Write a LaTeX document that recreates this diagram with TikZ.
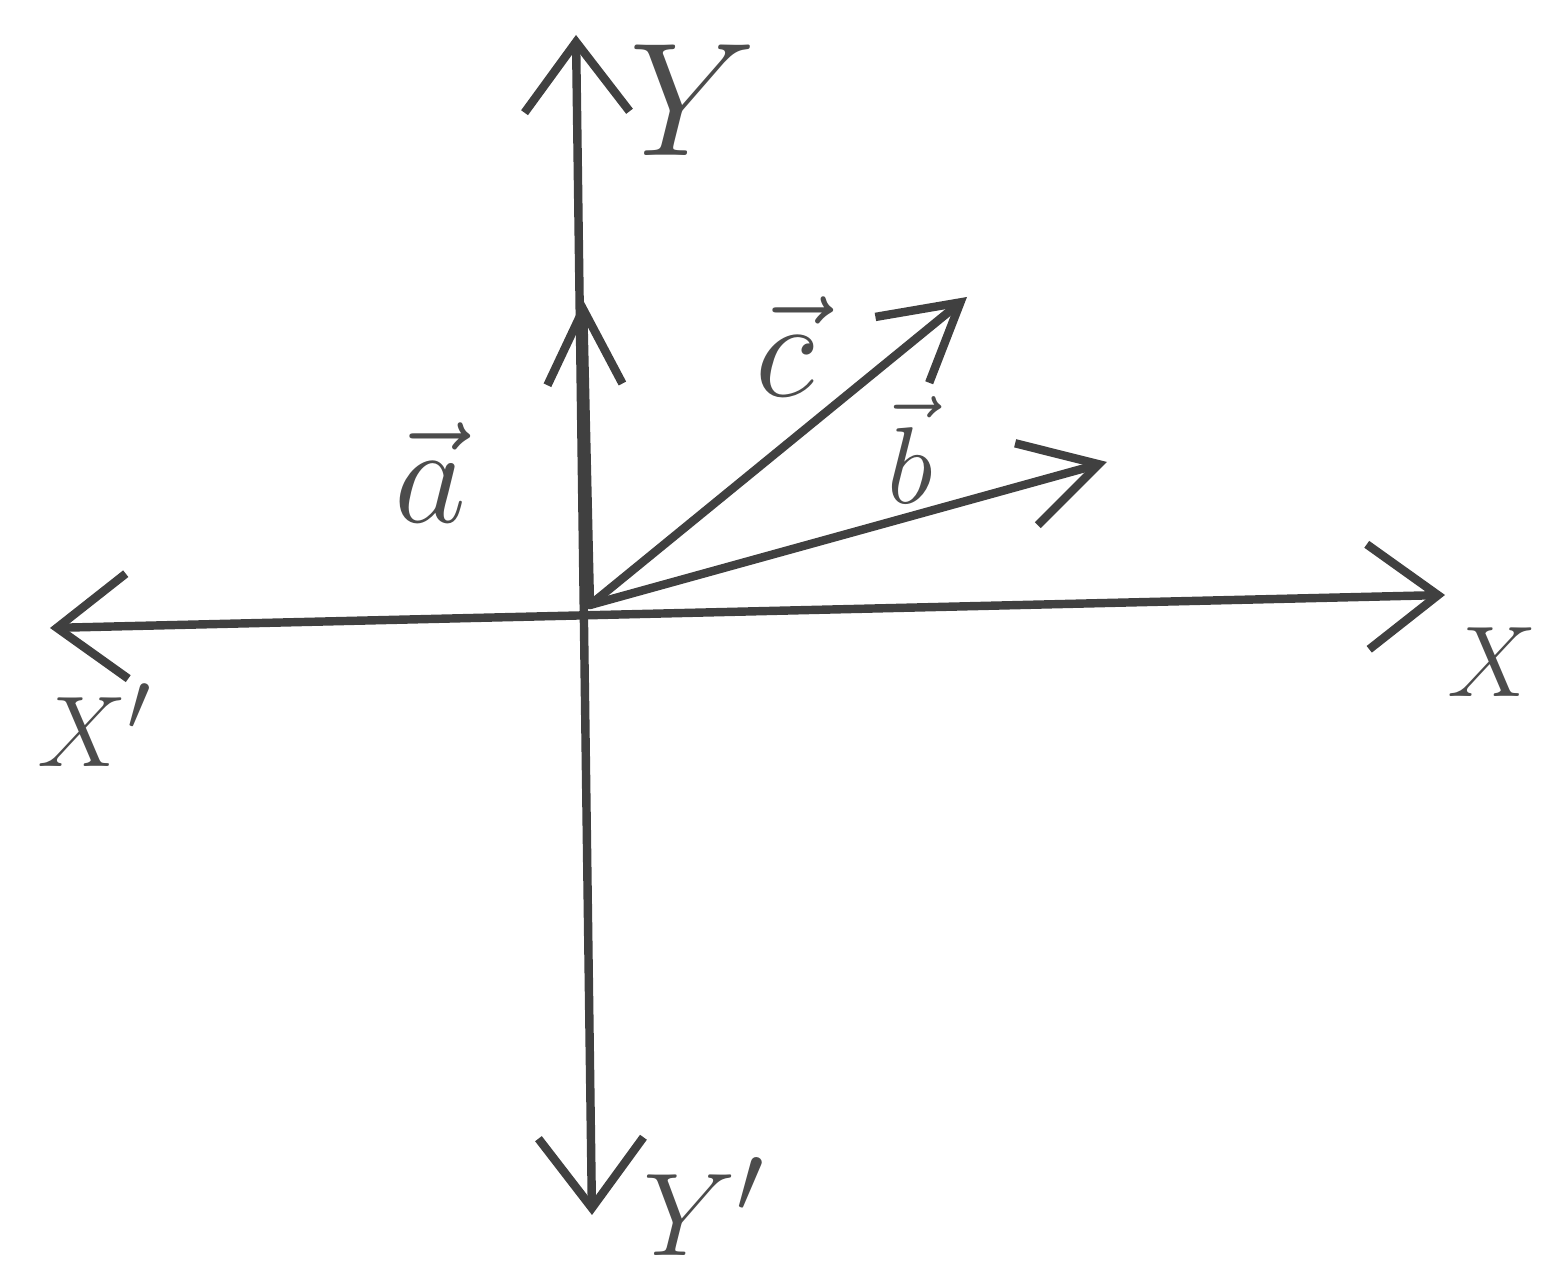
\documentclass[tikz,border=0pt]{standalone}
\usepackage{amsmath}
\usepackage{tikz}
\usetikzlibrary{arrows.meta, positioning}
\tikzset{
    eixo/.style  = {line width=2.4pt, black!75, line cap=round,
                    {Straight Barb[length=7mm, width=10.5mm, line width=2.4pt]}-{Straight Barb[length=7mm, width=10.5mm, line width=2.4pt]}},
    vetor/.style = {line width=2.4pt, black!75, line cap=round,
                    -{Straight Barb[length=7.5mm, width=8.5mm, line width=2.4pt]}},
    vetora/.style = {line width=2.4pt, black!75, line cap=round,
                    -{Straight Barb[length=7.5mm, width=7.5mm, line width=2.4pt]}},
    rot/.style   = {text=black!70, font=\Huge, inner sep=0pt},
}
\begin{document}
\begin{tikzpicture}
    \useasboundingbox (-5.90,-6.69) rectangle (9.54,6.05);
    % pontos
    \coordinate (O)  at (0,0);
    \coordinate (xl) at (-5.40,-0.23);
    \coordinate (xr) at (8.55,0.10);
    \coordinate (yt) at (-0.14,5.70);
    \coordinate (yb) at (0.02,-6.10);
    \coordinate (ta) at (-0.07,3.05);
    \coordinate (tc) at (3.77,3.08);
    \coordinate (tb) at (5.17,1.43);
    % eixos
    \draw[eixo] (xl) -- (xr);
    \draw[eixo] (yb) -- (yt);
    % vetores
    \draw[vetora] (O) -- (ta);
    \draw[vetor] (O) -- (tc);
    \draw[vetor] (O) -- (tb);
    % rotulos
    \node[rot, scale=1.85] (lY) at (1.03,5.05) {$Y$};
    \node[rot, scale=1.15] (lX)  at (9.02,-0.57) {$X$};
    \node[rot, scale=1.15] (lXl) at (-4.95,-1.20) {$X'$};
    \node[rot, scale=1.35] (lYl) at (1.15,-6.02) {$Y'$};
    \node[rot, scale=1.6] (la) at (-1.60,1.32) {$\vec{a}$};
    \node[rot, scale=1.6] (lc) at (1.95,2.58) {$\vec{c}$};
    \node[rot, scale=1.25] (lb) at (3.20,1.55) {$\vec{b}$};
\end{tikzpicture}
\end{document}
